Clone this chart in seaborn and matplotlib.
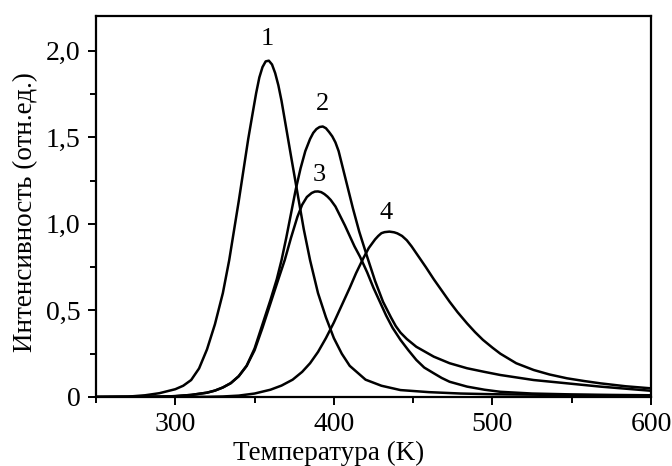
import numpy as np
import pandas as pd
import matplotlib
matplotlib.use("Agg")
import matplotlib.pyplot as plt
import seaborn as sns
from matplotlib.ticker import MultipleLocator, FuncFormatter

# ---- data ----
T1 = [250, 270, 281, 290, 300, 305, 310, 315, 320, 325, 330, 334, 337, 340, 343, 346, 349, 351, 353, 355, 357, 359,
      361, 363, 365, 367, 370, 373, 377, 381, 385, 390, 395, 400, 405, 410, 420, 430, 442, 460, 480, 500, 550, 600]
I1 = [0, 0.002, 0.01, 0.022, 0.045, 0.065, 0.098, 0.165, 0.275, 0.42, 0.6, 0.79, 0.96, 1.13, 1.31, 1.49, 1.65, 1.755, 1.845, 1.905, 1.938, 1.942,
      1.92, 1.87, 1.80, 1.71, 1.55, 1.39, 1.18, 0.97, 0.79, 0.6, 0.46, 0.34, 0.25, 0.18, 0.1, 0.065, 0.04, 0.028, 0.02, 0.016, 0.011, 0.008]

T2 = [250, 290, 300, 310, 320, 325, 330, 335, 340, 345, 350, 355, 360, 364, 367, 370, 373, 376, 379, 382, 385, 387, 389,
      391, 393, 395, 397, 399, 401, 403, 406, 409, 412, 416, 421, 426, 431, 436, 439, 442, 446, 452, 463, 473, 484, 495,
      505, 526, 547, 568, 600]
I2 = [0, 0.002, 0.005, 0.012, 0.025, 0.037, 0.055, 0.08, 0.12, 0.18, 0.28, 0.42, 0.56, 0.68, 0.79, 0.92, 1.06, 1.2, 1.32, 1.42, 1.49, 1.525, 1.547,
      1.559, 1.562, 1.552, 1.53, 1.505, 1.47, 1.42, 1.31, 1.20, 1.09, 0.955, 0.81, 0.67, 0.55, 0.46, 0.41, 0.372, 0.335, 0.29, 0.233, 0.195, 0.166, 0.145,
      0.127, 0.098, 0.079, 0.06, 0.036]

T3 = [250, 290, 300, 310, 320, 325, 330, 335, 340, 345, 350, 355, 360, 365, 369, 373, 377, 380, 383, 386, 388, 390, 392,
      394, 396, 398, 401, 404, 407, 410, 413, 416.5, 421, 425, 429, 433, 437, 442, 447, 452, 457, 463, 468, 473, 484, 495,
      505, 525, 550, 575, 600]
I3 = [0, 0.002, 0.005, 0.012, 0.025, 0.037, 0.055, 0.08, 0.12, 0.18, 0.27, 0.4, 0.54, 0.68, 0.79, 0.92, 1.04, 1.11, 1.155, 1.178, 1.186, 1.187, 1.183,
      1.172, 1.157, 1.138, 1.1, 1.045, 0.99, 0.93, 0.87, 0.81, 0.72, 0.63, 0.55, 0.47, 0.4, 0.33, 0.27, 0.214, 0.17, 0.137, 0.11, 0.088, 0.06, 0.042,
      0.03, 0.02, 0.015, 0.012, 0.01]

T4 = [250, 320, 330, 340, 350, 360, 367, 374, 380, 385, 390, 395, 400, 405, 410, 414, 418.5, 422, 426, 428, 430, 432,
      435, 438, 440, 443, 446, 449, 452, 458, 463, 468, 473, 478, 484, 489, 494, 500, 505, 515, 526, 536, 547, 558, 568,
      584, 600]
I4 = [0, 0.001, 0.003, 0.008, 0.02, 0.042, 0.066, 0.1, 0.145, 0.195, 0.26, 0.34, 0.43, 0.53, 0.63, 0.715, 0.80, 0.86, 0.91, 0.93, 0.946, 0.952,
      0.955, 0.951, 0.945, 0.93, 0.905, 0.87, 0.83, 0.75, 0.68, 0.615, 0.55, 0.49, 0.425, 0.375, 0.33, 0.285, 0.25, 0.195, 0.156, 0.13, 0.108, 0.092, 0.079,
      0.062, 0.05]

curve_names = ["1", "2", "3", "4"]
label_T = [357.8, 392.8, 390.6, 433.2]
label_I = [2.07, 1.69, 1.28, 1.06]

x_ticks = [300, 400, 500, 600]
y_ticks = [0, 0.5, 1.0, 1.5, 2.0]

xlabel = "Температура (K)"
ylabel = "Интенсивность (отн.ед.)"

# ---- build long-form table ----
frames = []
for name, T, I in zip(curve_names, [T1, T2, T3, T4], [I1, I2, I3, I4]):
    frames.append(pd.DataFrame({"T": T, "I": I, "curve": name}))
df = pd.concat(frames, ignore_index=True)

sns.set_style("ticks")
plt.rcParams["font.family"] = ["Liberation Serif", "DejaVu Serif"]
plt.rcParams["text.color"] = "black"
plt.rcParams["axes.labelcolor"] = "black"
plt.rcParams["xtick.color"] = "black"
plt.rcParams["ytick.color"] = "black"
plt.rcParams["lines.solid_joinstyle"] = "round"

fig = plt.figure(figsize=(6.72, 4.66), dpi=100)
ax = fig.add_axes([96 / 672, 1 - 397 / 466, (651 - 96) / 672, (397 - 16) / 466])

sns.lineplot(data=df, x="T", y="I", hue="curve", units="curve", estimator=None,
             palette={n: "black" for n in curve_names}, legend=False, linewidth=1.8, ax=ax, sort=True)

for n, tx, ty in zip(curve_names, label_T, label_I):
    ax.text(tx, ty, n, ha="center", va="center", fontsize=19, color="black")

ax.set_xlim(250, 600)
ax.set_ylim(0, 2.2)
ax.set_xticks(x_ticks)
ax.set_yticks(y_ticks)
ax.xaxis.set_minor_locator(MultipleLocator(50))
ax.yaxis.set_minor_locator(MultipleLocator(0.25))
ax.yaxis.set_major_formatter(FuncFormatter(lambda v, p: "0" if abs(v) < 1e-9 else f"{v:.1f}".replace(".", ",")))

ax.tick_params(which="major", direction="out", length=6, width=1.4, labelsize=20, pad=5,
               colors="black", labelcolor="black")
ax.tick_params(which="minor", direction="out", length=4, width=1.4, colors="black")
for s in ax.spines.values():
    s.set_linewidth(1.6)
    s.set_color("black")

ax.set_xlabel(xlabel, fontsize=19.5, color="black")
ax.set_ylabel(ylabel, fontsize=19.5, color="black")
ax.xaxis.set_label_coords(0.42, -0.115)
ax.yaxis.set_label_coords(-0.1045, 0.486)

fig.savefig("out.png", dpi=100)
